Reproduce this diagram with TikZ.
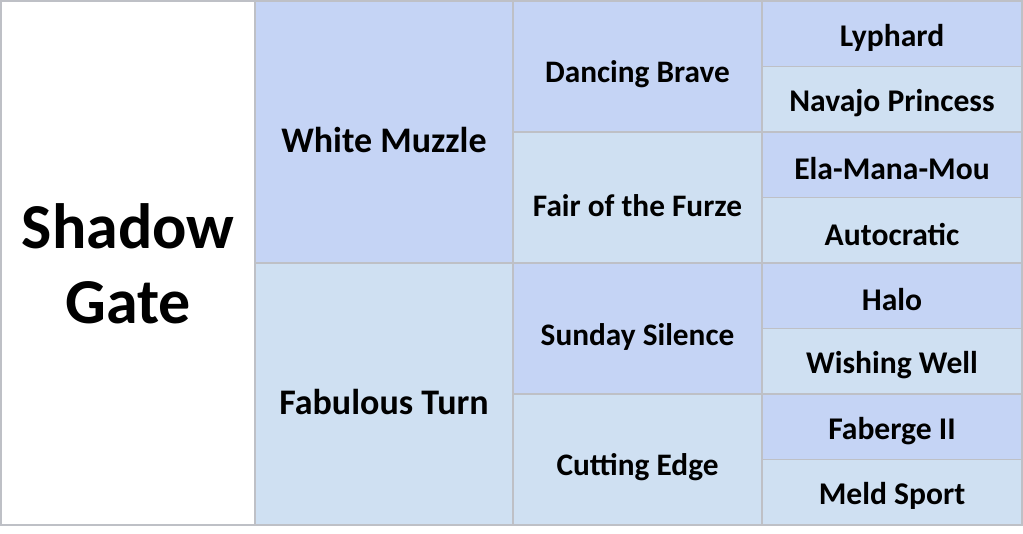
\documentclass[tikz,border=0pt]{standalone}
\usepackage{fontspec}
\setmainfont{Carlito}
\begin{document}
\begin{tikzpicture}[x=1pt,y=1pt,
  cell/.style={draw=gridgray,line width=1.2pt,inner sep=0pt},
  dk/.style={cell,fill=darkcell},
  lt/.style={cell,fill=lightcell},
  txtA/.style={inner sep=0pt,font=\bfseries\fontsize{64}{75}\selectfont,align=center},
  txtB/.style={inner sep=0pt,font=\bfseries\fontsize{36}{42}\selectfont},
  txtC/.style={inner sep=0pt,font=\bfseries\fontsize{31.3}{36}\selectfont},
  txtD/.style={inner sep=0pt,font=\bfseries\fontsize{31.6}{36}\selectfont}]
\definecolor{gridgray}{RGB}{190,192,198}
\definecolor{darkcell}{RGB}{197,212,245}
\definecolor{lightcell}{RGB}{207,224,242}
\useasboundingbox (0,0) rectangle (1023,-533);
\fill[white] (0,0) rectangle (1023,-533);
% column 1
\node[cell,fill=white,minimum width=254pt,minimum height=524pt] (sg) at (128,-263) {};
\node[txtA] (sgt) at ([yshift=-1pt]sg.center) {Shadow\\Gate};
% column 2
\node[dk,minimum width=258pt,minimum height=262pt] (wm) at (384,-132) {};
\node[lt,minimum width=258pt,minimum height=262pt] (ft) at (384,-394) {};
\node[txtB] (wmt) at ([yshift=-8pt]wm.center) {White Muzzle};
\node[txtB] (ftt) at ([yshift=-8pt]ft.center) {Fabulous Turn};
% column 3
\node[dk,minimum width=249pt,minimum height=131pt] (db) at (637.5,-66.5) {};
\node[lt,minimum width=249pt,minimum height=131pt] (ff) at (637.5,-197.5) {};
\node[dk,minimum width=249pt,minimum height=131pt] (ss) at (637.5,-328.5) {};
\node[lt,minimum width=249pt,minimum height=131pt] (ce) at (637.5,-459.5) {};
\node[txtC] (dbt) at ([yshift=-8pt]db.center) {Dancing Brave};
\node[txtC] (fft) at ([yshift=-8pt]ff.center) {Fair of the Furze};
\node[txtC] (sst) at ([yshift=-8pt]ss.center) {Sunday Silence};
\node[txtC] (cet) at ([yshift=-8pt]ce.center) {Cutting Edge};
% column 4
\node[dk,minimum width=260pt,minimum height=65.5pt] (ly) at (892,-33.75) {};
\node[lt,minimum width=260pt,minimum height=65.5pt] (np) at (892,-99.25) {};
\node[dk,minimum width=260pt,minimum height=65.5pt] (em) at (892,-164.75) {};
\node[lt,minimum width=260pt,minimum height=65.5pt] (au) at (892,-230.25) {};
\node[dk,minimum width=260pt,minimum height=65.5pt] (ha) at (892,-295.75) {};
\node[lt,minimum width=260pt,minimum height=65.5pt] (ww) at (892,-361.25) {};
\node[dk,minimum width=260pt,minimum height=65.5pt] (fb) at (892,-426.75) {};
\node[lt,minimum width=260pt,minimum height=65.5pt] (ms) at (892,-492.25) {};
\node[txtD] at ([yshift=-4pt]ly.center) {Lyphard};
\node[txtD] at ([yshift=-4pt]np.center) {Navajo Princess};
\node[txtD] at ([yshift=-4pt]em.center) {Ela-Mana-Mou};
\node[txtD] at ([yshift=-4pt]au.center) {Autocratic};
\node[txtD] at ([yshift=-4pt]ha.center) {Halo};
\node[txtD] at ([yshift=-4pt]ww.center) {Wishing Well};
\node[txtD] at ([yshift=-4pt]fb.center) {Faberge II};
\node[txtD] at ([yshift=-4pt]ms.center) {Meld Sport};
\end{tikzpicture}
\end{document}
